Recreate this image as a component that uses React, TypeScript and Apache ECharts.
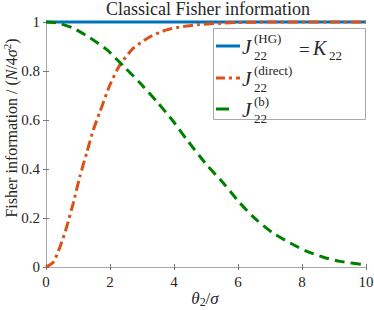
import React, { useEffect, useRef } from "react";
import * as echarts from "echarts";

const xTicks = [0, 2, 4, 6, 8, 10];
const yTicks = [0, 0.2, 0.4, 0.6, 0.8, 1];

const hgTheta = [0, 10];
const hgValues = [1, 1];

const directTheta = [0, 0.23, 0.44, 0.65, 0.85, 1.06, 1.27, 1.48, 1.69, 2.0, 2.31, 2.73, 3.25, 3.77, 4.29, 4.8, 5.5, 6, 7, 8, 9, 10];
const directValues = [0, 0.02, 0.083, 0.165, 0.26, 0.37, 0.465, 0.56, 0.635, 0.744, 0.825, 0.893, 0.94, 0.968, 0.982, 0.99, 0.995, 0.998, 1, 1, 1, 1];

const bTheta = [0, 0.33, 0.85, 1.375, 1.9, 2.42, 2.94, 3.46, 3.98, 4.4, 5.02, 5.54, 6.06, 6.58, 7.1, 7.63, 8.15, 8.67, 9.19, 9.9, 10];
const bValues = [1, 0.997, 0.975, 0.935, 0.887, 0.82, 0.751, 0.676, 0.594, 0.52, 0.417, 0.343, 0.261, 0.192, 0.138, 0.098, 0.064, 0.04, 0.023, 0.01, 0.009];

const FONT = "Liberation Serif";
const TXT = "#262626";
const AX = "#a8a8a8";
const BLUE = "#0072BD";
const ORANGE = "#D95319";
const GREEN = "#008000";

const zip = (a: number[], b: number[]) => a.map((v, i) => [v, b[i]]);

const ts = (size: number, italic = false, extra: any = {}) => ({
  fontFamily: FONT,
  fontSize: size,
  fontStyle: italic ? "italic" : "normal",
  fill: TXT,
  ...extra,
});

export default function App() {
  const ref = useRef<HTMLDivElement>(null);
  useEffect(() => {
    if (!ref.current) return;
    const chart = echarts.init(ref.current, null, { renderer: "svg" });
    const axisCommon = {
      min: 0,
      axisLine: { show: true, lineStyle: { color: AX, width: 1 } },
      axisTick: { show: true, inside: true, length: 3, lineStyle: { color: "#777" } },
      splitLine: { show: false },
    };
    const legendRows = [46, 78, 109];
    const jx = 242;
    const supx = 254;
    const graphic: any[] = [
      {
        type: "rect",
        shape: { x: 213.5, y: 28.5, width: 152, height: 91 },
        style: { fill: "#fff", stroke: AX, lineWidth: 1 },
        z: 100,
      },
      { type: "line", shape: { x1: 216, y1: legendRows[0], x2: 240, y2: legendRows[0] }, style: { stroke: BLUE, lineWidth: 3 }, z: 101 },
      { type: "line", shape: { x1: 216, y1: legendRows[1], x2: 240, y2: legendRows[1] }, style: { stroke: ORANGE, lineWidth: 3, lineDash: [9, 4, 3, 4] }, z: 101 },
      { type: "line", shape: { x1: 216, y1: legendRows[2], x2: 229, y2: legendRows[2] }, style: { stroke: GREEN, lineWidth: 3 }, z: 101 },
    ];
    const sups = ["(HG)", "(direct)", "(b)"];
    legendRows.forEach((y, i) => {
      graphic.push(
        { type: "text", x: jx, y: y + 1, z: 102, style: { text: "J", ...ts(21, true), verticalAlign: "middle" } },
        { type: "text", x: supx, y: y - 8, z: 102, style: { text: sups[i], ...ts(13), verticalAlign: "middle" } },
        { type: "text", x: supx, y: y + 9, z: 102, style: { text: "22", ...ts(13), verticalAlign: "middle" } }
      );
    });
    graphic.push(
      { type: "text", x: 299, y: legendRows[0] + 3, z: 102, style: { text: "=", ...ts(19), verticalAlign: "middle" } },
      { type: "text", x: 313, y: legendRows[0] + 2, z: 102, style: { text: "K", ...ts(20, true), verticalAlign: "middle" } },
      { type: "text", x: 329, y: legendRows[0] + 9, z: 102, style: { text: "22", ...ts(13), verticalAlign: "middle" } }
    );
    // title
    graphic.push({
      type: "text", x: 208, y: 9,
      style: { text: "Classical Fisher information", ...ts(18), align: "center", verticalAlign: "middle" },
    });
    // x label
    graphic.push({
      type: "text", x: 205, y: 298,
      style: {
        text: "{i|θ}{s|2}{n|/}{i|σ}",
        align: "center", verticalAlign: "middle",
        rich: {
          i: ts(17, true),
          n: ts(17),
          s: ts(12, false, { padding: [8, 0, 0, 0] }),
        },
      },
    });
    // y label
    graphic.push({
      type: "text", x: 11, y: 128, rotation: Math.PI / 2,
      style: {
        text: "{n|Fisher information / (}{i|N}{n|/4}{i|σ}{s|2}{n|)}",
        align: "center", verticalAlign: "middle",
        rich: {
          i: ts(16, true),
          n: ts(16),
          s: ts(11, false, { padding: [0, 0, 8, 0] }),
        },
      },
    });

    const labelStyle = { color: TXT, fontFamily: FONT, fontSize: 15 };
    chart.setOption({
      animation: false,
      grid: { left: 46, right: 8, top: 22, bottom: 43, outerBoundsMode: "none", show: false },
      xAxis: [
        {
          ...axisCommon, type: "value", max: 10, interval: 2, position: "bottom",
          axisLabel: { ...labelStyle, margin: 7, formatter: (v: number) => (xTicks.includes(v) ? String(v) : "") },
        },
        { ...axisCommon, type: "value", max: 10, interval: 2, position: "top", axisLabel: { show: false } },
      ],
      yAxis: [
        {
          ...axisCommon, type: "value", max: 1, interval: 0.2, position: "left",
          axisLabel: { ...labelStyle, margin: 6, formatter: (v: number) => { const t = yTicks.find((q) => Math.abs(q - v) < 1e-9); return t === undefined ? "" : String(t); } },
        },
        { ...axisCommon, type: "value", max: 1, interval: 0.2, position: "right", axisLabel: { show: false } },
      ],
      series: [
        { type: "line", name: "HG", data: zip(hgTheta, hgValues), showSymbol: false, symbol: "none", clip: false, lineStyle: { color: BLUE, width: 3 }, z: 2 },
        { type: "line", name: "direct", data: zip(directTheta, directValues), showSymbol: false, symbol: "none", smooth: 0.2, clip: false, lineStyle: { color: ORANGE, width: 3, type: [10, 4, 3, 4] }, z: 3 },
        { type: "line", name: "b", data: zip(bTheta, bValues), showSymbol: false, symbol: "none", smooth: 0.2, clip: false, lineStyle: { color: GREEN, width: 3, type: [10, 6] }, z: 4 },
      ],
      graphic,
    });
    return () => chart.dispose();
  }, []);
  return <div ref={ref} style={{ width: 374, height: 310, position: "absolute", left: 0, top: 0 }} />;
}
